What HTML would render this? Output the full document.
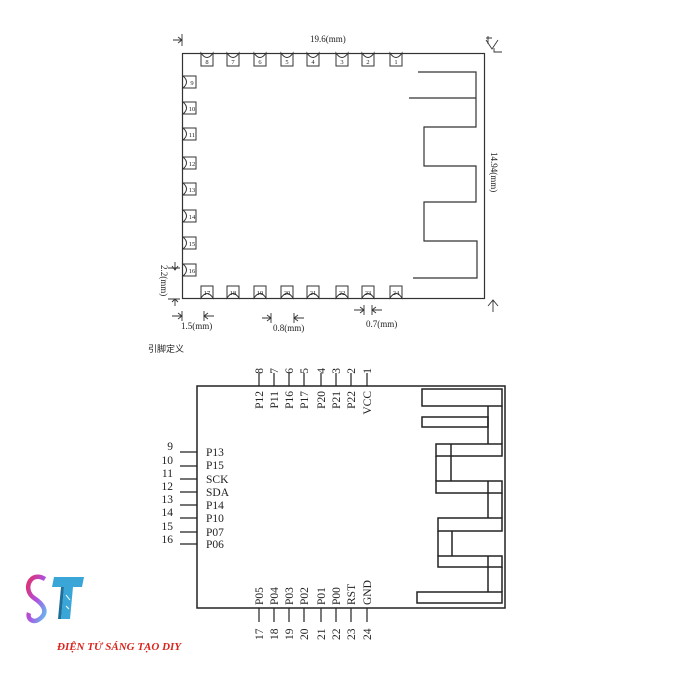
<!DOCTYPE html>
<html><head><meta charset="utf-8"><style>
body{margin:0;background:#fff;width:686px;height:686px;overflow:hidden}
svg{display:block}
text{font-family:"Liberation Serif",serif;fill:#222}
</style></head><body>
<svg width="686" height="686" viewBox="0 0 686 686" xmlns="http://www.w3.org/2000/svg">
<defs>
<linearGradient id="sg" x1="0" y1="0" x2="1" y2="1"><stop offset="0" stop-color="#e0306a"/><stop offset="0.5" stop-color="#b050e0"/><stop offset="1" stop-color="#60c0f0"/></linearGradient>
</defs>
<g stroke="#333" stroke-width="1.2" fill="none">
<rect x="182.5" y="53.5" width="302" height="245"/>
<polyline points="418,72 476,72 476,127 424,127 424,166 476,166 476,202 424,202 424,241 477,241 477,278 413,278"/>
<line x1="409" y1="98" x2="476" y2="98"/>
</g>
<g stroke="#333" stroke-width="1" fill="#fff">
<path d="M201,53 V66 H213 V53 Q207,62 201,53Z"/>
<path d="M227,53 V66 H239 V53 Q233,62 227,53Z"/>
<path d="M254,53 V66 H266 V53 Q260,62 254,53Z"/>
<path d="M281,53 V66 H293 V53 Q287,62 281,53Z"/>
<path d="M307,53 V66 H319 V53 Q313,62 307,53Z"/>
<path d="M336,53 V66 H348 V53 Q342,62 336,53Z"/>
<path d="M362,53 V66 H374 V53 Q368,62 362,53Z"/>
<path d="M390,53 V66 H402 V53 Q396,62 390,53Z"/>
<path d="M201,298 V286 H213 V298 Q207,289 201,298Z"/>
<path d="M227,298 V286 H239 V298 Q233,289 227,298Z"/>
<path d="M254,298 V286 H266 V298 Q260,289 254,298Z"/>
<path d="M281,298 V286 H293 V298 Q287,289 281,298Z"/>
<path d="M307,298 V286 H319 V298 Q313,289 307,298Z"/>
<path d="M336,298 V286 H348 V298 Q342,289 336,298Z"/>
<path d="M362,298 V286 H374 V298 Q368,289 362,298Z"/>
<path d="M390,298 V286 H402 V298 Q396,289 390,298Z"/>
<path d="M183,76 H196 V88 H183 Q190,82 183,76Z"/>
<path d="M183,102 H196 V114 H183 Q190,108 183,102Z"/>
<path d="M183,128 H196 V140 H183 Q190,134 183,128Z"/>
<path d="M183,157 H196 V169 H183 Q190,163 183,157Z"/>
<path d="M183,183 H196 V195 H183 Q190,189 183,183Z"/>
<path d="M183,210 H196 V222 H183 Q190,216 183,210Z"/>
<path d="M183,237 H196 V249 H183 Q190,243 183,237Z"/>
<path d="M183,264 H196 V276 H183 Q190,270 183,264Z"/>
</g>
<g font-size="6.5" text-anchor="middle">
<text x="207" y="64">8</text><text x="233" y="64">7</text><text x="260" y="64">6</text><text x="287" y="64">5</text><text x="313" y="64">4</text><text x="342" y="64">3</text><text x="368" y="64">2</text><text x="396" y="64">1</text>
<text x="207" y="295">17</text><text x="233" y="295">18</text><text x="260" y="295">19</text><text x="287" y="295">20</text><text x="313" y="295">21</text><text x="342" y="295">22</text><text x="368" y="295">23</text><text x="396" y="295">24</text>
<text x="192" y="85">9</text><text x="192" y="111">10</text><text x="192" y="137">11</text><text x="192" y="166">12</text><text x="192" y="192">13</text><text x="192" y="219">14</text><text x="192" y="246">15</text><text x="192" y="273">16</text>
</g>
<g stroke="#333" stroke-width="0.9" fill="none">
<line x1="182" y1="34" x2="182" y2="46"/><path d="M173,40 H182 M178,37 L182,40 L178,43"/>
<path d="M486,38 H492 M488,36 V44 M486,40 L492,49 L498,40 M494,48 V52 H502"/>
<path d="M488,306 L493,300 L498,306 M493,300 V312"/>
<path d="M168,268 H180 M175,262 V270 M172,266 L175,270 L178,266"/>
<path d="M168,299 H180 M175,299 V306 M172,302 L175,299 L178,302"/>
<path d="M172,316 H182 M178,313 L182,316 L178,319 M182,311 V321"/>
<path d="M204,316 H214 M208,313 L204,316 L208,319 M204,311 V321"/>
<path d="M262,318 H271 M267,315 L271,318 L267,321 M271,313 V323"/>
<path d="M294,318 H304 M298,315 L294,318 L298,321 M294,313 V323"/>
<path d="M354,310 H364 M360,307 L364,310 L360,313 M364,305 V315"/>
<path d="M372,310 H382 M376,307 L372,310 L376,313 M372,305 V315"/>
</g>
<g font-size="9">
<text x="310" y="42">19.6(mm)</text>
<text x="181" y="329">1.5(mm)</text>
<text x="273" y="331">0.8(mm)</text>
<text x="366" y="327">0.7(mm)</text>
<text transform="translate(491,152) rotate(90)">14.94(mm)</text>
<text transform="translate(161,265) rotate(90)">2.2(mm)</text>
</g>
<text x="148" y="352" font-size="9" style="font-family:'Noto Sans CJK SC',sans-serif">引脚定义</text>

<g stroke="#222" stroke-width="1.5" fill="none">
<rect x="197" y="386" width="308" height="222"/>
<g stroke-width="1.2">
<path d="M259,373V386M274,373V386M289,373V386M304,373V386M321,373V386M336,373V386M351,373V386M367,373V386"/>
<path d="M259,608V622M274,608V622M289,608V622M304,608V622M321,608V622M336,608V622M351,608V622M367,608V622"/>
<path d="M180,452H197M180,466H197M180,479H197M180,492H197M180,505H197M180,518H197M180,532H197M180,544H197"/>
</g>
<rect x="422" y="389" width="80" height="17"/>
<rect x="422" y="417" width="66" height="10"/>
<line x1="488" y1="406" x2="488" y2="444"/>
<rect x="436" y="444" width="66" height="12"/>
<line x1="451" y1="444" x2="451" y2="481"/>
<line x1="436" y1="456" x2="436" y2="481"/>
<line x1="502" y1="406" x2="502" y2="444"/>
<rect x="436" y="481" width="66" height="12"/>
<line x1="488" y1="481" x2="488" y2="518"/>
<line x1="502" y1="493" x2="502" y2="518"/>
<rect x="438" y="518" width="64" height="13"/>
<line x1="452" y1="531" x2="452" y2="556"/>
<line x1="438" y1="531" x2="438" y2="556"/>
<rect x="438" y="556" width="64" height="11"/>
<line x1="488" y1="556" x2="488" y2="592"/>
<line x1="502" y1="567" x2="502" y2="592"/>
<rect x="417" y="592" width="85" height="11"/>
</g>
<g font-size="11.5" text-anchor="end">
<g transform="rotate(-90)">
<text x="-391" y="263">P12</text><text x="-391" y="278">P11</text><text x="-391" y="293">P16</text><text x="-391" y="308">P17</text><text x="-391" y="325">P20</text><text x="-391" y="340">P21</text><text x="-391" y="355">P22</text><text x="-391" y="371">VCC</text>
<text x="-368" y="263">8</text><text x="-368" y="278">7</text><text x="-368" y="293">6</text><text x="-368" y="308">5</text><text x="-368" y="325">4</text><text x="-368" y="340">3</text><text x="-368" y="355">2</text><text x="-368" y="371">1</text>
</g>
</g>
<g font-size="11.5" text-anchor="start">
<g transform="rotate(-90)">
<text x="-605" y="263">P05</text><text x="-605" y="278">P04</text><text x="-605" y="293">P03</text><text x="-605" y="308">P02</text><text x="-605" y="325">P01</text><text x="-605" y="340">P00</text><text x="-605" y="355">RST</text><text x="-605" y="371">GND</text>
<text x="-640" y="263">17</text><text x="-640" y="278">18</text><text x="-640" y="293">19</text><text x="-640" y="308">20</text><text x="-640" y="325">21</text><text x="-640" y="340">22</text><text x="-640" y="355">23</text><text x="-640" y="371">24</text>
</g>
</g>
<g font-size="11.5">
<text x="206" y="456">P13</text><text x="206" y="469">P15</text><text x="206" y="483">SCK</text><text x="206" y="496">SDA</text><text x="206" y="509">P14</text><text x="206" y="522">P10</text><text x="206" y="536">P07</text><text x="206" y="548">P06</text>
</g>
<g font-size="11.5" text-anchor="end">
<text x="173" y="450">9</text><text x="173" y="464">10</text><text x="173" y="477">11</text><text x="173" y="490">12</text><text x="173" y="503">13</text><text x="173" y="516">14</text><text x="173" y="530">15</text><text x="173" y="543">16</text>
</g>
<path d="M45,579 C30,570 22,590 34,598 C46,606 48,614 38,620 C32,623 27,618 29,613" stroke="url(#sg)" stroke-width="4.5" fill="none"/>
<path d="M54,577 H84 L82,587 H73 L70,619 H61 L64,587 H52Z" fill="#3aa6d8"/>
<path d="M64,587 L61,619 H58 L61,587Z" fill="#1e6e9a"/>
<path d="M66,595 L70,600 M66,606 L69,609" stroke="#fff" stroke-width="1"/>
<text x="57" y="650" font-size="11" font-weight="bold" font-style="italic" style="fill:#d8261e">ĐIỆN TỬ SÁNG TẠO DIY</text>
</svg>
</body></html>
